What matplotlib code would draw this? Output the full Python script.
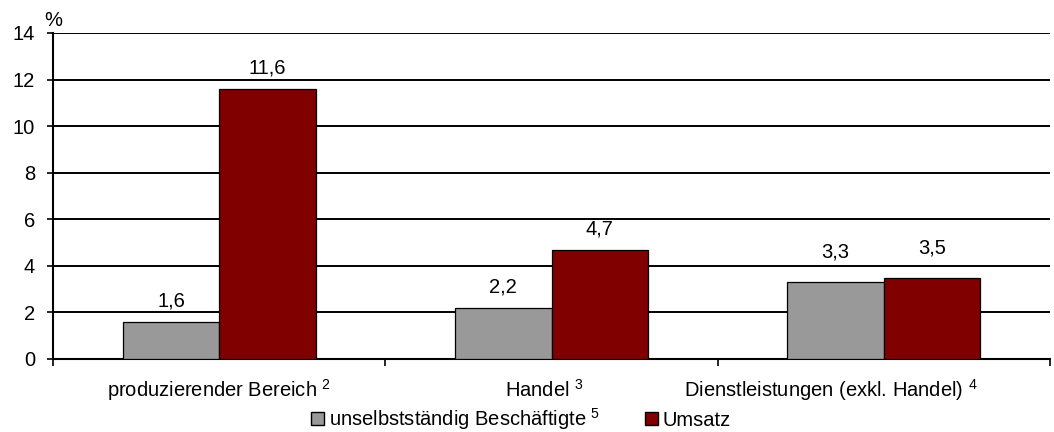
import matplotlib
matplotlib.use("Agg")
import matplotlib.pyplot as plt
from matplotlib.patches import Patch
import numpy as np

plt.rcParams['font.family'] = ['Liberation Sans', 'DejaVu Sans']
plt.rcParams['mathtext.fontset'] = 'custom'
plt.rcParams['mathtext.rm'] = 'Liberation Sans'
plt.rcParams['mathtext.it'] = 'Liberation Sans'

categories = ["produzierender Bereich", "Handel", "Dienstleistungen (exkl. Handel)"]
footnotes = ["2", "3", "4"]
series_names = ["unselbstständig Beschäftigte", "Umsatz"]
series_footnotes = ["5", ""]
beschaeftigte = [1.6, 2.2, 3.3]
umsatz = [11.6, 4.7, 3.5]
yticks = [0, 2, 4, 6, 8, 10, 12, 14]

colors = ["#999999", "#800000"]
FS = 14.5

fig = plt.figure(figsize=(10.54, 4.32), dpi=100)
ax = fig.add_axes([53/1054, 1-359/432, 997/1054, 326/432])

x = np.arange(len(categories))
w = 0.29
vals = [beschaeftigte, umsatz]
# value labels are lifted above a gridline they would otherwise cross
label_lift = {(0, 2): 17.5, (1, 2): 17.0}
for i, (v, c) in enumerate(zip(vals, colors)):
    pos = x + (i - 0.5) * w
    ax.bar(pos, v, width=w, color=c, edgecolor="black", linewidth=0.9, zorder=3)
    for j, (p, val) in enumerate(zip(pos, v)):
        ax.annotate(f"{val:.1f}".replace(".", ","), xy=(p, val),
                    xytext=(0, label_lift.get((i, j), 11)),
                    textcoords="offset points", ha="center", va="baseline",
                    fontsize=FS, zorder=4)

ax.set_xlim(-0.5, len(categories) - 0.5)
ax.set_ylim(0, 14)
ax.set_yticks(yticks)
ax.set_yticklabels([str(t) for t in yticks], fontsize=FS)
ax.yaxis.grid(True, color="black", linewidth=1.4, zorder=0)
ax.set_axisbelow(True)

ax.set_xticks(np.arange(len(categories) + 1) - 0.5)
ax.set_xticklabels([])
ax.tick_params(axis="x", length=5, width=1.2, direction="out")
ax.tick_params(axis="y", length=4.5, width=1.2, direction="out", pad=8.5)

for s in ["top", "right"]:
    ax.spines[s].set_visible(False)
ax.spines["left"].set_linewidth(1.5)
ax.spines["bottom"].set_linewidth(1.5)

label_shift = [0.0, -0.02, -0.16]
for xi, cat, fn, sh in zip(x, categories, footnotes, label_shift):
    ax.annotate(f"{cat} $^{{{fn}}}$", xy=(xi + sh, 0), xycoords=("data", "axes fraction"),
                xytext=(0, -27.5), textcoords="offset points",
                ha="center", va="baseline", fontsize=FS, annotation_clip=False)

ax.annotate("%", xy=(0, 1), xycoords="axes fraction", xytext=(0, 2), textcoords="offset points",
            ha="center", va="bottom", fontsize=FS)

handles = [Patch(facecolor=colors[0], edgecolor="black"), Patch(facecolor=colors[1], edgecolor="black")]
labels = [f"{series_names[0]} $^{{{series_footnotes[0]}}}$", series_names[1]]
fig.legend(handles, labels, loc="center", bbox_to_anchor=(521/1054, 1-419/432), ncol=2,
           frameon=False, fontsize=FS, handlelength=0.65, handleheight=0.65,
           handletextpad=0.25, columnspacing=2.2, borderpad=0, borderaxespad=0)

fig.savefig("out.png", dpi=100)
